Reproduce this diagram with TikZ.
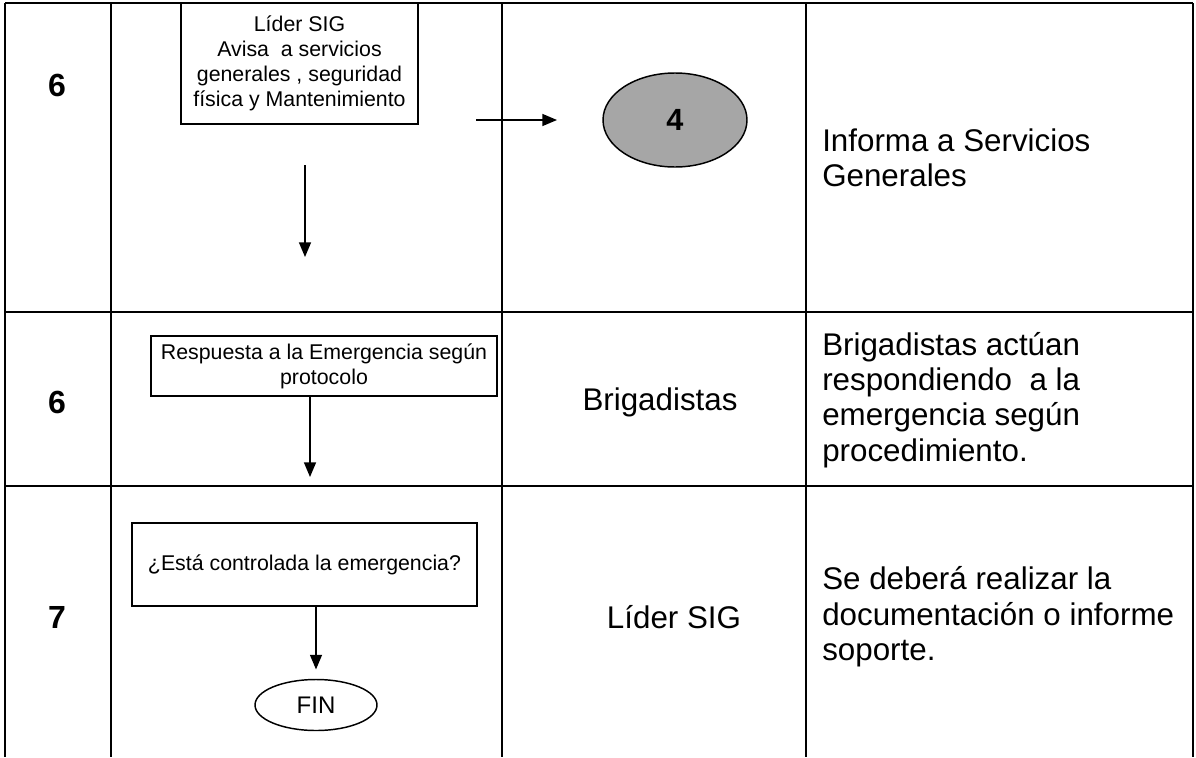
\documentclass[tikz,border=0pt]{standalone}
\usepackage{fontspec}
\setmainfont{Liberation Sans}
\usetikzlibrary{positioning, arrows.meta, shapes.geometric, calc}

\begin{document}
\begin{tikzpicture}[
    x=0.75pt, y=-0.75pt,
    grid/.style={line width=1.6pt, draw=black},
    stepbox/.style={rectangle, draw=black, line width=1.1pt, fill=white, align=center, inner sep=2pt, font=\fontsize{16}{18.75}\selectfont},
    link/.style={ellipse, draw=black, line width=1.1pt, fill=black!35, inner sep=0pt, minimum width=108pt, minimum height=70.5pt, font=\fontsize{23}{26}\selectfont\bfseries},
    endnode/.style={ellipse, draw=black, line width=1.1pt, fill=white, inner sep=0pt, minimum width=91.5pt, minimum height=38.25pt, font=\fontsize{18}{21}\selectfont},
    stepnum/.style={inner sep=0pt, font=\fontsize{24}{28}\selectfont\bfseries},
    role/.style={inner sep=0pt, font=\fontsize{23.5}{26.5}\selectfont},
    desc/.style={anchor=west, inner sep=0pt, align=left, font=\fontsize{23.5}{26.5}\selectfont},
    flow/.style={-{Triangle[length=11pt, width=9pt]}, line width=1.1pt, draw=black}
    ]

    \useasboundingbox (0,0) rectangle (1196,757);

    % Table
    \draw[grid] (5,3) -- (1193,3);
    \draw[grid] (5,312) -- (1193,312);
    \draw[grid] (5,486) -- (1193,486);
    \foreach \xcol in {5, 111, 502, 806, 1193}
        \draw[grid] (\xcol,3) -- (\xcol,757);

    % Row 1
    \node[stepnum] (n1) at (57,85) {6};
    \node[stepbox, minimum width=177.75pt, minimum height=90.75pt] (aviso) at (299.5,63.5)
        {Líder SIG\\Avisa\ \ a servicios\\generales , seguridad\\física y Mantenimiento};
    \node[link] (c4) at (675,120) {4};
    \node[desc] (d1) at (822,158) {Informa a Servicios\\Generales};

    \coordinate (a1s) at (476,120);
    \coordinate (a1e) at (557,120);
    \coordinate (b1s) at (305,165);
    \coordinate (b1e) at (305,257);
    \draw[flow] (a1s) -- (a1e);
    \draw[flow] (b1s) -- (b1e);

    % Row 2
    \node[stepnum] (n2) at (57,402) {6};
    \node[stepbox, minimum width=259.5pt, minimum height=45pt] (resp) at (324,366)
        {Respuesta a la Emergencia según\\protocolo};
    \node[role] (r2) at (660,402) {Brigadistas};
    \node[desc] (d2) at (822,400) {Brigadistas actúan\\respondiendo\ \ a la\\emergencia según\\procedimiento.};

    \coordinate (b2e) at (310,477);
    \draw[flow] (resp.south -| b2e) -- (b2e);

    % Row 3
    \node[stepnum] (n3) at (57,617) {7};
    \node[stepbox, minimum width=258.75pt, minimum height=62.25pt] (preg) at (304.5,564.5)
        {¿Está controlada la emergencia?};
    \node[endnode] (fin) at (316,705) {FIN};
    \node[role] (r3) at (674,617) {Líder SIG};
    \node[desc] (d3) at (822,617) {Se deberá realizar la\\documentación o informe\\soporte.};

    \draw[flow, shorten >=7pt] (preg.south -| fin) -- (fin.north);

\end{tikzpicture}
\end{document}
